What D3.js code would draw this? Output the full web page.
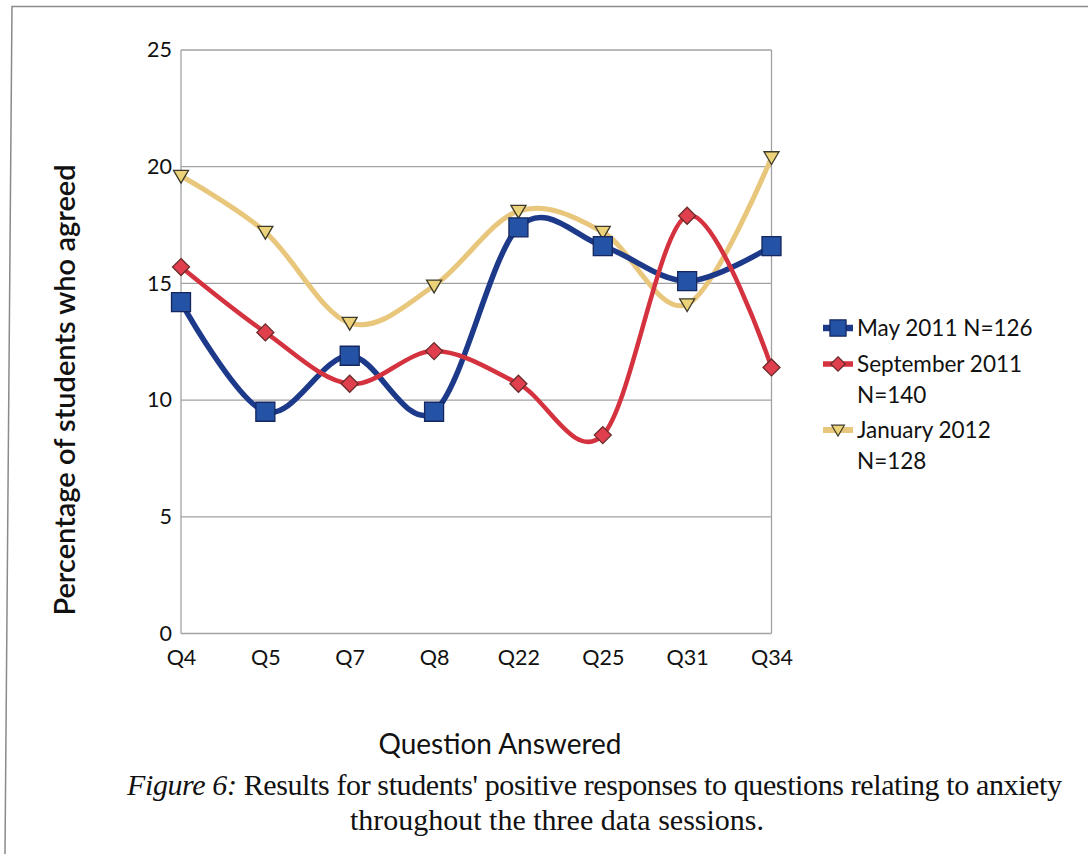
<!DOCTYPE html>
<html>
<head>
<meta charset="utf-8">
<script src="https://cdn.jsdelivr.net/npm/d3@7/dist/d3.min.js"></script>
<style>
  html, body { margin: 0; padding: 0; background: #fff; }
  svg { display: block; }
</style>
</head>
<body>
<svg id="chart" width="1088" height="854"></svg>
<script>
// Survey questions on the category axis
const questions = ["Q4", "Q5", "Q7", "Q8", "Q22", "Q25", "Q31", "Q34"];

// Percentage of students who agreed, per data session
const may2011 = [14.2, 9.5, 11.9, 9.5, 17.4, 16.6, 15.1, 16.6];
const sep2011 = [15.7, 12.9, 10.7, 12.1, 10.7, 8.5, 17.9, 11.4];
const jan2012 = [19.6, 17.2, 13.3, 14.9, 18.1, 17.2, 14.1, 20.4];

const yTicks = [0, 5, 10, 15, 20, 25];

const seriesNames = [["May 2011 N=126"], ["September 2011", "N=140"], ["January 2012", "N=128"]];

const series = [
  { name: seriesNames[0], values: may2011, line: "#1d3a8a", width: 5.5, fill: "#2452a4", stroke: "#15275e", shape: "square" },
  { name: seriesNames[1], values: sep2011, line: "#d5323f", width: 4.5, fill: "#e0404e", stroke: "#6a2a2a", shape: "diamond" },
  { name: seriesNames[2], values: jan2012, line: "#e8c77c", width: 5, fill: "#ecd379", stroke: "#3d3a2a", shape: "triangle" }
];

const svg = d3.select("#chart");
const sansFont = "Lato, 'Open Sans', sans-serif";

// Figure frame
svg.append("path")
  .attr("d", "M1088,6.5 L12,6.5 L5,854")
  .attr("fill", "none").attr("stroke", "#8a8a8a").attr("stroke-width", 1.5);

const plot = { left: 181, right: 771.5, top: 50, bottom: 633.5 };

const x = d3.scalePoint().domain(questions).range([plot.left, plot.right]);
const y = d3.scaleLinear().domain([0, 25]).range([plot.bottom, plot.top]);

// Horizontal gridlines
svg.append("g")
  .selectAll("line").data(yTicks.filter(t => t > 0)).join("line")
  .attr("x1", plot.left).attr("x2", plot.right)
  .attr("y1", d => y(d)).attr("y2", d => y(d))
  .attr("stroke", "#a2a2a2").attr("stroke-width", 1.3);

// Plot area side lines and baseline
svg.append("line").attr("x1", plot.left).attr("x2", plot.left).attr("y1", plot.top).attr("y2", plot.bottom)
  .attr("stroke", "#a2a2a2").attr("stroke-width", 1.3);
svg.append("line").attr("x1", plot.right).attr("x2", plot.right).attr("y1", plot.top).attr("y2", plot.bottom)
  .attr("stroke", "#a2a2a2").attr("stroke-width", 1.3);
svg.append("line").attr("x1", plot.left).attr("x2", plot.right).attr("y1", plot.bottom).attr("y2", plot.bottom)
  .attr("stroke", "#a2a2a2").attr("stroke-width", 1.3);

// Y axis tick labels
const yAxis = d3.axisLeft(y).tickValues(yTicks).tickSize(0).tickPadding(9);
const yg = svg.append("g").attr("transform", `translate(${plot.left},0)`).call(yAxis);
yg.select(".domain").remove();
yg.selectAll("text").attr("font-family", sansFont).attr("font-size", 21.5).attr("fill", "#111");

// X axis tick labels
const xAxis = d3.axisBottom(x).tickSize(0).tickPadding(16);
const xg = svg.append("g").attr("transform", `translate(0,${plot.bottom})`).call(xAxis);
xg.select(".domain").remove();
xg.selectAll("text").attr("font-family", sansFont).attr("font-size", 21.5).attr("fill", "#111");

// Axis titles
svg.append("text")
  .attr("transform", `translate(75,390) rotate(-90)`)
  .attr("text-anchor", "middle")
  .attr("font-family", sansFont).attr("font-size", 29).attr("font-weight", 600).attr("fill", "#111")
  .text("Percentage of students who agreed");

svg.append("text")
  .attr("x", 500).attr("y", 754)
  .attr("text-anchor", "middle")
  .attr("font-family", sansFont).attr("font-size", 28).attr("fill", "#111")
  .text("Question Answered");

// Marker shapes
function markerPath(shape, s) {
  if (shape === "square") return `M${-s},${-s}H${s}V${s}H${-s}Z`;
  if (shape === "diamond") return `M0,${-s}L${s},0L0,${s}L${-s},0Z`;
  return `M${-s},${-s * 0.75}H${s}L0,${s * 0.95}Z`;
}
const markerSize = { square: 9.5, diamond: 8.5, triangle: 7.5 };

// Smoothed series lines
const line = d3.line()
  .x((d, i) => x(questions[i]))
  .y(d => y(d))
  .curve(d3.curveCardinal.tension(0));

const drawOrder = [2, 0, 1];
drawOrder.forEach(k => {
  const s = series[k];
  svg.append("path")
    .datum(s.values)
    .attr("d", line)
    .attr("fill", "none")
    .attr("stroke", s.line)
    .attr("stroke-width", s.width)
    .attr("stroke-linejoin", "round");
});
drawOrder.forEach(k => {
  const s = series[k];
  svg.append("g").selectAll("path").data(s.values).join("path")
    .attr("transform", (d, i) => `translate(${x(questions[i])},${y(d)})`)
    .attr("d", markerPath(s.shape, markerSize[s.shape]))
    .attr("fill", s.fill)
    .attr("stroke", s.stroke)
    .attr("stroke-width", 1.3);
});

// Legend
const legendRows = [328, 364, 430];
series.forEach((s, k) => {
  const g = svg.append("g").attr("transform", `translate(838,${legendRows[k]})`);
  g.append("line").attr("x1", -15).attr("x2", 15).attr("y1", 0).attr("y2", 0)
    .attr("stroke", s.line).attr("stroke-width", s.width + 1);
  g.append("path").attr("d", markerPath(s.shape, markerSize[s.shape] * 0.85))
    .attr("fill", s.fill).attr("stroke", s.stroke).attr("stroke-width", 1.2);
  const t = g.append("text")
    .attr("font-family", sansFont).attr("font-size", 22.5).attr("fill", "#111");
  s.name.forEach((ln, j) => {
    t.append("tspan").attr("x", 19).attr("y", 8 + j * 31).text(ln);
  });
});

// Caption
const caption = svg.append("text")
  .attr("font-family", "'Liberation Serif', 'Times New Roman', serif")
  .attr("font-size", 30).attr("fill", "#111");
const l1 = caption.append("tspan").attr("x", 127).attr("y", 795)
  .attr("textLength", 935).attr("lengthAdjust", "spacing");
l1.append("tspan").attr("font-style", "italic").text("Figure 6:");
l1.append("tspan").text(" Results for students' positive responses to questions relating to anxiety");
caption.append("tspan").attr("x", 557).attr("y", 830).attr("text-anchor", "middle")
  .text("throughout the three data sessions.");
</script>
</body>
</html>
